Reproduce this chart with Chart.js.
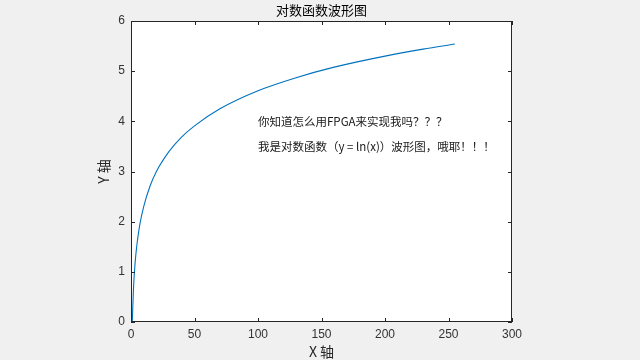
<!DOCTYPE html>
<html><head><meta charset="utf-8">
<script src="https://cdn.jsdelivr.net/npm/chart.js@4/dist/chart.umd.min.js"></script>
<style>html,body{margin:0;padding:0;background:#f0f0f0;}#wrap{width:640px;height:360px;}</style>
</head><body><div id="wrap"><canvas id="c" width="640" height="360"></canvas></div>
<script>
const xValues = [1, 2, 3, 4, 5, 7, 10, 15, 20, 30, 40, 50, 70, 100, 130, 160, 200, 230, 255];
const yValues = [0, 0.69, 1.1, 1.39, 1.61, 1.95, 2.3, 2.71, 3.0, 3.4, 3.69, 3.91, 4.25, 4.61, 4.87, 5.08, 5.3, 5.44, 5.54];
const xTicks = [0, 50, 100, 150, 200, 250, 300];
const yTicks = [0, 1, 2, 3, 4, 5, 6];
const titleText = '对数函数波形图';
const xLabel = 'X 轴';
const yLabel = 'Y 轴';
const notes = [
  {x: 100, y: 4.0, text: '你知道怎么用FPGA来实现我吗？？？'},
  {x: 100, y: 3.5, text: '我是对数函数（y = ln(x)）波形图，哦耶！！！'}
];

const AX = '#262626';
const FONT = '"Liberation Sans", Arial, "Noto Sans CJK SC", sans-serif';

const deco = {
  id: 'deco',
  beforeDraw(chart) {
    const {ctx, chartArea: a} = chart;
    ctx.save();
    ctx.fillStyle = '#f0f0f0';
    ctx.fillRect(0, 0, chart.width, chart.height);
    ctx.fillStyle = '#ffffff';
    ctx.fillRect(a.left, a.top, a.right - a.left, a.bottom - a.top);
    ctx.restore();
  },
  afterDraw(chart) {
    const {ctx, chartArea: a, scales} = chart;
    const xs = scales.x, ys = scales.y;
    ctx.save();
    ctx.strokeStyle = AX;
    ctx.lineWidth = 1;
    ctx.strokeRect(Math.round(a.left) + 0.5, Math.round(a.top) + 0.5, Math.round(a.right - a.left) - 1, Math.round(a.bottom - a.top) - 1);
    const L = 4;
    ctx.beginPath();
    xTicks.forEach(v => {
      const px = Math.round(xs.getPixelForValue(v)) + 0.5;
      ctx.moveTo(px, a.bottom); ctx.lineTo(px, a.bottom - L);
      ctx.moveTo(px, a.top); ctx.lineTo(px, a.top + L);
    });
    yTicks.forEach(v => {
      const py = Math.round(ys.getPixelForValue(v)) + 0.5;
      ctx.moveTo(a.left, py); ctx.lineTo(a.left + L, py);
      ctx.moveTo(a.right, py); ctx.lineTo(a.right - L, py);
    });
    ctx.stroke();
    ctx.fillStyle = '#000';
    ctx.textAlign = 'center';
    ctx.textBaseline = 'middle';
    ctx.font = '13px "Noto Sans CJK SC", sans-serif';
    ctx.fillText(titleText, (a.left + a.right) / 2, 10);
    ctx.fillStyle = AX;
    ctx.font = '14px "Noto Sans CJK SC", sans-serif';
    ctx.fillText(xLabel, (a.left + a.right) / 2, 352);
    ctx.save();
    ctx.translate(104, (a.top + a.bottom) / 2);
    ctx.rotate(-Math.PI / 2);
    ctx.fillText(yLabel, 0, 0);
    ctx.restore();
    ctx.fillStyle = '#1a1a1a';
    ctx.textAlign = 'left';
    ctx.font = '11.5px "Noto Sans CJK SC", sans-serif';
    notes.forEach(n => {
      ctx.fillText(n.text, xs.getPixelForValue(n.x), ys.getPixelForValue(n.y));
    });
    ctx.restore();
  }
};

new Chart(document.getElementById('c'), {
  type: 'line',
  data: {
    datasets: [{
      data: xValues.map((x, i) => ({x, y: yValues[i]})),
      borderColor: '#0072BD',
      borderWidth: 1.1,
      pointRadius: 0,
      fill: false,
      cubicInterpolationMode: 'monotone'
    }]
  },
  options: {
    responsive: false,
    animation: false,
    devicePixelRatio: 1,
    layout: {padding: {left: 0, right: 128, top: 21, bottom: 0}},
    plugins: {legend: {display: false}, title: {display: false}, tooltip: {enabled: false}},
    scales: {
      x: {
        type: 'linear', min: 0, max: 300,
        afterFit(s) { s.height = 38; },
        afterBuildTicks(s) { s.ticks = xTicks.map(v => ({value: v})); },
        grid: {display: false, drawTicks: false},
        border: {display: false},
        ticks: {color: '#333333', font: {family: FONT, size: 12}, padding: 5, maxRotation: 0, autoSkip: false}
      },
      y: {
        type: 'linear', min: 0, max: 6,
        afterFit(s) { s.width = 131; },
        afterBuildTicks(s) { s.ticks = yTicks.map(v => ({value: v})); },
        grid: {display: false, drawTicks: false},
        border: {display: false},
        ticks: {color: '#333333', font: {family: FONT, size: 12}, padding: 6, autoSkip: false}
      }
    }
  },
  plugins: [deco]
});
</script>
</body></html>
